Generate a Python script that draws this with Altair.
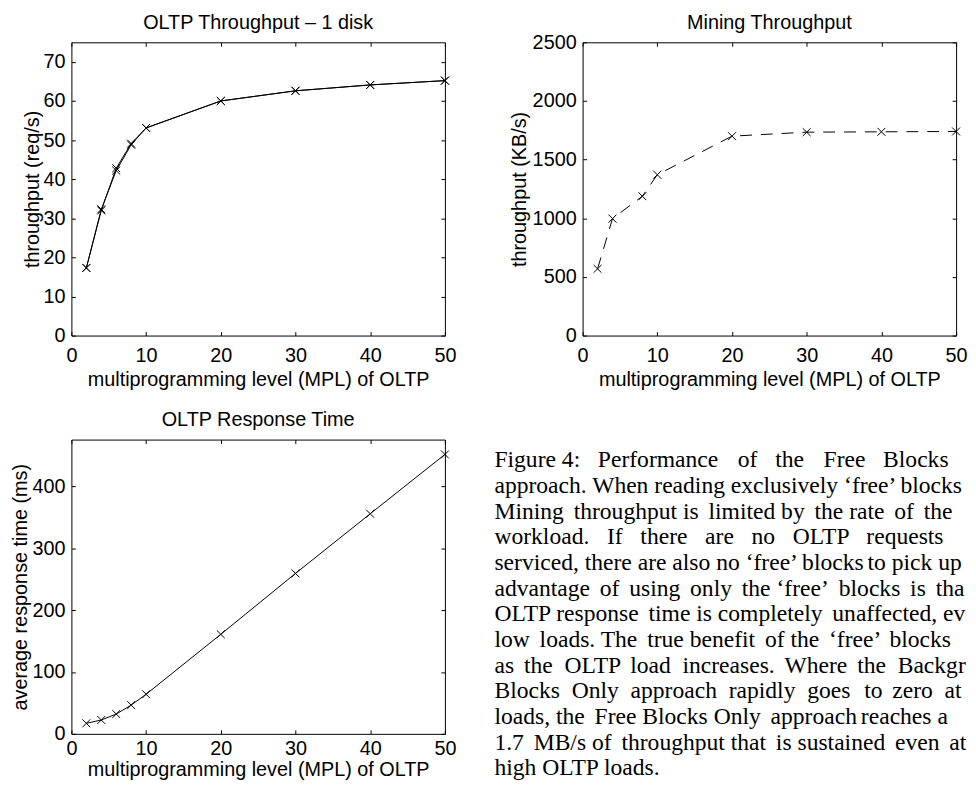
import altair as alt
import pandas as pd

# ---------------- data ----------------
mpl = [2, 4, 6, 8, 10, 20, 30, 40, 50]
oltp_tput = [17.3, 32.0, 42.8, 49.1, 53.1, 60.0, 62.6, 64.1, 65.2]
oltp_tput_2 = [17.3, 32.3, 42.2, 48.8, 53.1, 60.0, 62.6, 64.1, 65.2]
mining_mpl = [2, 4, 8, 10, 20, 30, 40, 50]
mining_tput = [569, 997, 1188, 1371, 1700, 1734, 1737, 1740]
resp_time = [17, 22.4, 32, 46.5, 64, 161, 259.5, 356, 452]

x_ticks = [0, 10, 20, 30, 40, 50]
tput_ticks = [0, 10, 20, 30, 40, 50, 60, 70]
mining_ticks = [0, 500, 1000, 1500, 2000, 2500]
resp_ticks = [0, 100, 200, 300, 400]

x_title = "multiprogramming level (MPL) of OLTP"

# caption: the words of each visible line
caption_words = [
    ["Figure 4:", "Performance", "of", "the", "Free", "Blocks"],
    ["approach.", "When", "reading", "exclusively", "\u2018free\u2019", "blocks"],
    ["Mining", "throughput", "is", "limited", "by", "the", "rate", "of", "the", "O"],
    ["workload.", "If", "there", "are", "no", "OLTP", "requests", "b"],
    ["serviced,", "there", "are", "also", "no", "\u2018free\u2019", "blocks", "to", "pick", "up"],
    ["advantage", "of", "using", "only", "the", "\u2018free\u2019", "blocks", "is", "tha"],
    ["OLTP", "response", "time", "is", "completely", "unaffected,", "ev"],
    ["low", "loads.", "The", "true", "benefit", "of", "the", "\u2018free\u2019", "blocks", "c"],
    ["as", "the", "OLTP", "load", "increases.", "Where", "the", "Backgr"],
    ["Blocks", "Only", "approach", "rapidly", "goes", "to", "zero", "at"],
    ["loads,", "the", "Free", "Blocks", "Only", "approach", "reaches", "a", "st"],
    ["1.7", "MB/s", "of", "throughput", "that", "is", "sustained", "even", "at"],
    ["high", "OLTP", "loads."],
]
# where the last word of each justified line starts in the reference (px)
caption_last_word_x = [893.3, 912, 970, 973.3, 949, 946.7, 955, 970, 910,
                       955, 966.7, 958, None]
CAP_X0 = 498
CAP_FS = 23.8

# Times (Liberation Serif) advance widths, per 1000 em
TIMES_W = {" ": 250, ".": 250, ",": 250, ":": 278, "/": 278,
           "\u2018": 333, "\u2019": 333}
TIMES_W.update({d: 500 for d in "0123456789"})
TIMES_W.update(dict(zip("abcdefghijklmnopqrstuvwxyz",
    [444, 500, 444, 500, 444, 333, 500, 500, 278, 278, 500, 278, 778,
     500, 500, 500, 500, 333, 389, 278, 500, 500, 722, 500, 500, 444])))
TIMES_W.update(dict(zip("ABCDEFGHIJKLMNOPQRSTUVWXYZ",
    [722, 667, 667, 722, 611, 556, 722, 722, 333, 389, 722, 611, 889,
     722, 722, 556, 722, 667, 556, 611, 722, 722, 944, 722, 722, 611])))

NB = "\u00a0"   # no-break space, 1/4 em
SX = "\u2006"   # six-per-em space (narrow)
W_SP = 0.25 * CAP_FS
W_SX = 0.185 * CAP_FS


def text_w(s):
    return sum(TIMES_W.get(ch, 500) for ch in s) / 1000 * CAP_FS


def justify(words, target):
    if target is None:
        return " ".join(words)
    n = len(words) - 1
    total_gap = target - (CAP_X0 + sum(text_w(w) for w in words[:-1]))
    opts = [(SX, W_SX)]
    for k in range(0, 5):
        for j in range(0, 3):
            opts.append((" " + NB * k + SX * j, W_SP * (1 + k) + W_SX * j))
    out, cum = words[0], 0.0
    for i in range(1, n + 1):
        want = total_gap * i / n - cum
        g, w = min(opts, key=lambda o: abs(o[1] - want))
        out += g + words[i]
        cum += w
    return out


# ---------------- styling ----------------
SANS = "Liberation Sans"
SERIF = "Liberation Serif"
XPATH = "M-1,-1L1,1M-1,1L1,-1"
W = 377


def panel(df, title, ytitle, ydom, yticks, height, dash=None, ytp=1, tdy=7,
          xlp=10, xtp=4):
    xs = alt.Scale(domain=[0, 50], nice=False, zero=False)
    ys = alt.Scale(domain=ydom, nice=False, zero=False)
    x_main = alt.X("mpl:Q", scale=xs, axis=alt.Axis(
        values=x_ticks, title=x_title, offset=-4, tickSize=4, domain=False,
        grid=False, labelPadding=xlp, titlePadding=xtp, labelFlush=False,
        labelOverlap=False, format="d"))
    y_main = alt.Y("val:Q", scale=ys, axis=alt.Axis(
        values=yticks, title=ytitle, offset=-4, tickSize=4, domain=False,
        grid=False, labelPadding=6.5, titlePadding=ytp, labelFlush=False,
        labelOverlap=False, format="d"))
    line_kw = dict(color="black", strokeWidth=1)
    if dash:
        line_kw["strokeDash"] = dash
    line = alt.Chart(df).mark_line(**line_kw).encode(
        x=x_main, y=y_main, detail="series:N", order="mpl:Q")
    pts = alt.Chart(df).mark_point(
        shape=XPATH, size=64, filled=False, color="black", strokeWidth=1,
        opacity=1).encode(
        x=alt.X("mpl:Q", scale=xs, axis=None),
        y=alt.Y("val:Q", scale=ys, axis=None))
    mirror = alt.Chart(df).mark_point(opacity=0).encode(
        x=alt.X("mpl:Q", scale=xs, axis=alt.Axis(
            orient="top", values=x_ticks, offset=-4, tickSize=4, labels=False,
            domain=False, grid=False, title=None)),
        y=alt.Y("val:Q", scale=ys, axis=alt.Axis(
            orient="right", values=yticks, offset=-4, tickSize=4, labels=False,
            domain=False, grid=False, title=None)))
    return alt.layer(line, pts, mirror, title=alt.TitleParams(
        text=title, font=SANS, fontSize=20, fontWeight="normal",
        baseline="alphabetic", offset=0, dy=tdy, frame="group",
        anchor="middle", color="black")).resolve_axis(
        x="independent", y="independent").properties(width=W, height=height)


df_a = pd.DataFrame({
    "mpl": mpl + mpl,
    "val": oltp_tput + oltp_tput_2,
    "series": ["a"] * len(mpl) + ["b"] * len(mpl),
})
df_b = pd.DataFrame({"mpl": mining_mpl, "val": mining_tput,
                     "series": ["a"] * len(mining_mpl)})
df_c = pd.DataFrame({"mpl": mpl, "val": resp_time,
                     "series": ["a"] * len(mpl)})

A = panel(df_a, "OLTP Throughput \u2013 1 disk", "throughput (req/s)",
          [0, 75], tput_ticks, 296, ytp=0, tdy=7)
B = panel(df_b, "Mining Throughput", "throughput (KB/s)",
          [0, 2500], mining_ticks, 296, dash=[12, 9], ytp=3, tdy=17)
C = panel(df_c, "OLTP Response Time", "average response time (ms)",
          [0, 476], resp_ticks, 297, ytp=1, tdy=7, xlp=5, xtp=1)

lines = [justify(w, t) for w, t in zip(caption_words, caption_last_word_x)]
cap_df = pd.DataFrame({"i": list(range(len(lines))), "line": lines})

T = alt.Chart(cap_df).mark_text(
    align="left", baseline="alphabetic", font=SERIF, fontSize=CAP_FS,
    color="black", limit=477, ellipsis="\u200b").encode(
    x=alt.value(-89),
    y=alt.Y("i:Q", scale=alt.Scale(domain=[0, 12], range=[28, 339]),
            axis=None),
    text="line:N",
).properties(width=W, height=297, view=alt.ViewBackground(strokeOpacity=0))

chart = alt.concat(
    A, B, C, T, columns=2, bounds="flush", align="all",
    spacing=alt.RowColnumber(row=104, column=139),
).properties(
    padding={"left": 2, "top": 1, "right": 0, "bottom": 0},
).configure_axis(
    labelFont=SANS, labelFontSize=20, labelColor="black",
    titleFont=SANS, titleFontSize=20, titleFontWeight="normal",
    titleColor="black", tickColor="black", tickWidth=1,
).configure_view(stroke="black", strokeWidth=1)

chart.save("out.html", embed_options={"renderer": "svg", "actions": False})
